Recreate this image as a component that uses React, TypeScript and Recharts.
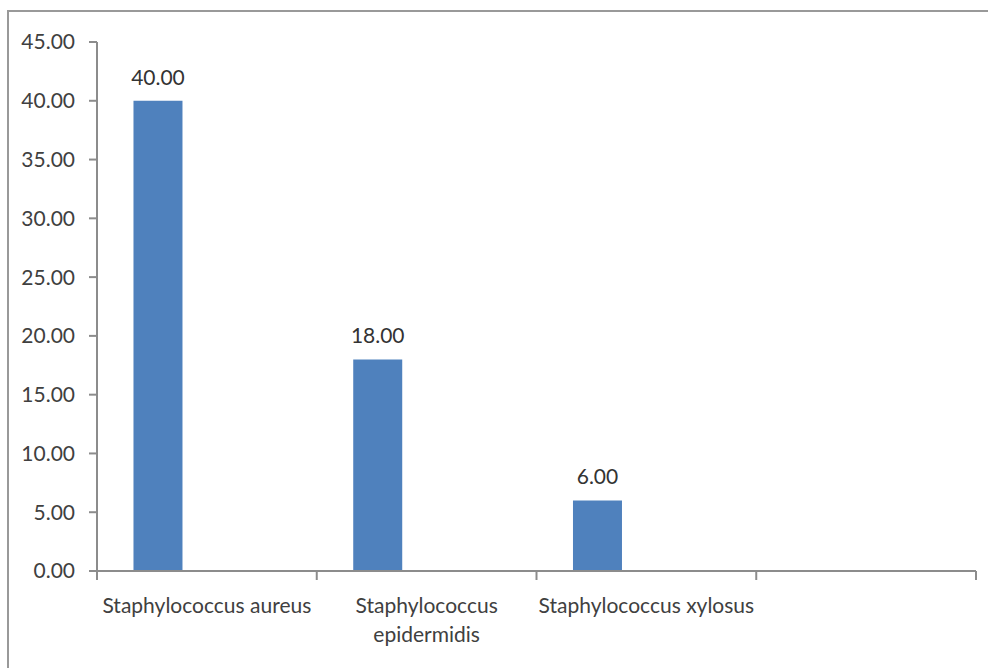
import React from 'react'
import { BarChart, Bar, XAxis, YAxis, LabelList } from 'recharts'

const categories = ['Staphylococcus aureus', 'Staphylococcus epidermidis', 'Staphylococcus xylosus', '']
const isolates = [40, 18, 6, null]
// the other two series of the workbook are empty but still take their slot
const series2 = [null, null, null, null]
const series3 = [null, null, null, null]
const yTicks = [0, 5, 10, 15, 20, 25, 30, 35, 40, 45]

const data = categories.map((name, i) => ({
  name,
  isolates: isolates[i],
  series2: series2[i],
  series3: series3[i],
}))

const FONT = 'Lato, "Open Sans", sans-serif'
const FONT_SIZE = 21
const TEXT = '#404040'
const AXIS = '#8c8c8c'
const MAX_CHARS = 22
const TICK_MARGIN = 26
const TICK_LEN = 9

// break long category names at the last space, like the spreadsheet does
function wrapLabel(label: string): string[] {
  if (label.length <= MAX_CHARS) return [label]
  const cut = label.lastIndexOf(' ', MAX_CHARS)
  if (cut < 0) return [label]
  return [label.slice(0, cut), label.slice(cut + 1)]
}

// category label plus tick marks on the band edges (between categories)
function CategoryTick(props: any) {
  const { x, y, payload, index, visibleTicksCount } = props
  const half = payload.offset ?? 0
  const lines = wrapLabel(String(payload.value))
  const axisY = y - TICK_MARGIN
  const edges = [x - half]
  if (index === visibleTicksCount - 1) edges.push(x + half)
  return (
    <g>
      {edges.map((ex, i) => (
        <line key={i} x1={ex} x2={ex} y1={axisY} y2={axisY + TICK_LEN} stroke={AXIS} strokeWidth={2} />
      ))}
      <text x={x} y={y} textAnchor="middle" fontFamily={FONT} fontSize={FONT_SIZE} fill={TEXT}>
        {lines.map((line, i) => (
          <tspan key={i} x={x} dy={i === 0 ? '0.75em' : 29}>
            {line}
          </tspan>
        ))}
      </text>
    </g>
  )
}

export default function App() {
  return (
    <div style={{ position: 'absolute', left: 0, top: 0, width: 988, height: 668, background: '#fff' }}>
      <div
        style={{
          position: 'absolute',
          left: 7,
          top: 10,
          right: 0,
          bottom: 0,
          borderTop: '2px solid #999',
          borderLeft: '2px solid #999',
        }}
      />
      <div style={{ position: 'absolute', left: 0, top: 0 }}>
        <BarChart
          width={988}
          height={668}
          data={data}
          margin={{ top: 42, right: 12, bottom: 7, left: 0 }}
          barCategoryGap="16.6%"
          barGap={0}
        >
          <XAxis
            dataKey="name"
            height={90}
            axisLine={{ stroke: AXIS, strokeWidth: 2 }}
            tickLine={false}
            tickSize={0}
            tickMargin={TICK_MARGIN}
            interval={0}
            tick={<CategoryTick />}
          />
          <YAxis
            domain={[0, 45]}
            ticks={yTicks}
            width={97}
            tickSize={8}
            tickMargin={14}
            tickFormatter={(v: number) => v.toFixed(2)}
            tick={{ fill: TEXT, fontFamily: FONT, fontSize: FONT_SIZE }}
            axisLine={{ stroke: AXIS, strokeWidth: 2 }}
            tickLine={{ stroke: AXIS, strokeWidth: 2 }}
          />
          <Bar dataKey="isolates" fill="#4F81BD" isAnimationActive={false}>
            <LabelList
              dataKey="isolates"
              position="top"
              offset={16}
              formatter={(v: any) => (v == null ? '' : Number(v).toFixed(2))}
              style={{ fill: '#333', fontFamily: FONT, fontSize: FONT_SIZE }}
            />
          </Bar>
          <Bar dataKey="series2" fill="#C0504D" isAnimationActive={false} />
          <Bar dataKey="series3" fill="#9BBB59" isAnimationActive={false} />
        </BarChart>
      </div>
    </div>
  )
}
